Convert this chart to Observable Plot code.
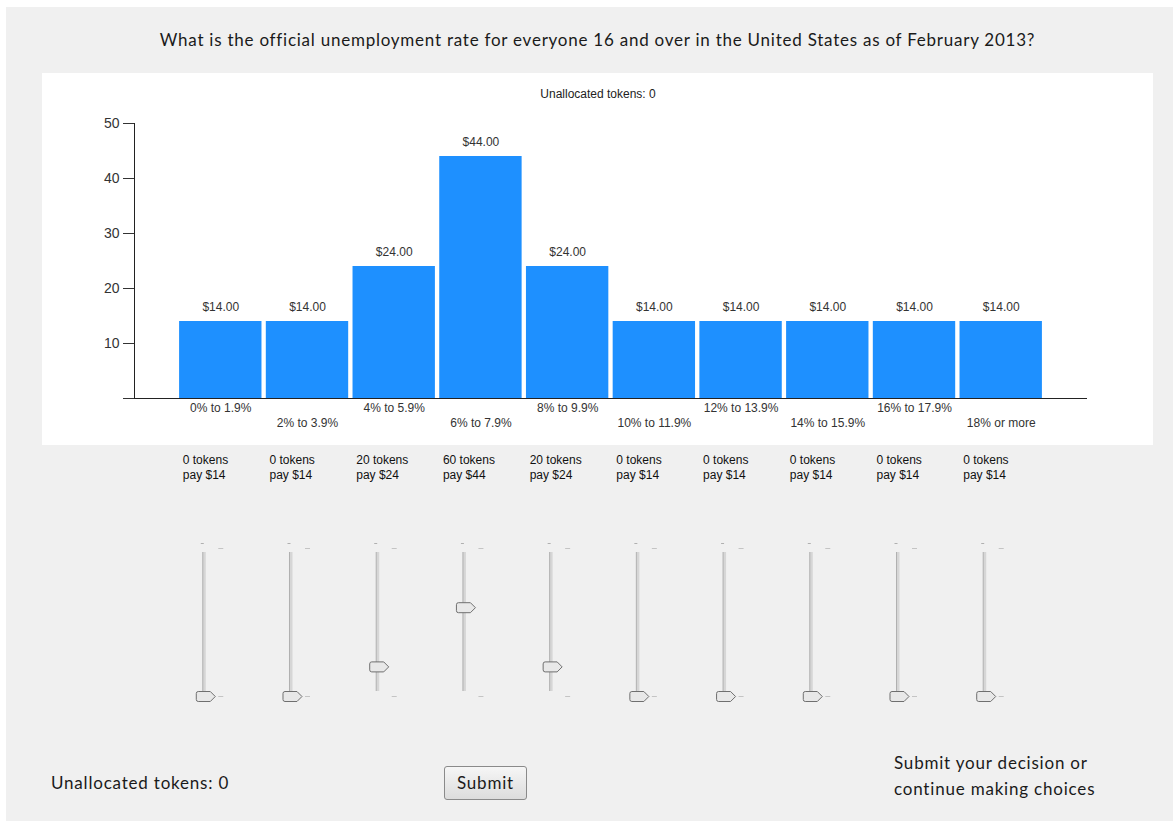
<!DOCTYPE html>
<html>
<head>
<meta charset="utf-8">
<script src="https://cdn.jsdelivr.net/npm/d3@7"></script>
<script src="https://cdn.jsdelivr.net/npm/@observablehq/plot@0.6"></script>
<style>
  html, body { margin: 0; padding: 0; background: #ffffff; }
  #page { position: absolute; left: 6px; top: 7px; width: 1167px; height: 814px; background: #f0f0f0; overflow: hidden; }
  .ui { position: absolute; font-family: Lato, "Open Sans", sans-serif; font-size: 17px; color: #1a1a1a; white-space: nowrap; letter-spacing: 0.8px; }
  #title { left: 0; width: 1183px; top: 22px; text-align: center; letter-spacing: 0.76px; }
  #chart { position: absolute; left: 36px; top: 66px; }
  #sliders { position: absolute; left: 36px; top: 438px; }
  #unalloc { left: 45px; top: 765px; }
  #submit { left: 438px; top: 759px; width: 81px; height: 32px; border: 1px solid #8a8a8a; border-radius: 3px;
            background: linear-gradient(#f6f6f6, #dcdcdc); text-align: center; line-height: 32px; }
  #hint { left: 888px; top: 743px; line-height: 26px; }
</style>
</head>
<body>
<div id="page">
  <div id="title" class="ui"></div>
  <div id="chart"></div>
  <div id="sliders"></div>
  <div id="unalloc" class="ui"></div>
  <div id="submit" class="ui"></div>
  <div id="hint" class="ui"></div>
</div>
<script>
// ---- data ----
const titleText = "What is the official unemployment rate for everyone 16 and over in the United States as of February 2013?";
const categories = ["0% to 1.9%", "2% to 3.9%", "4% to 5.9%", "6% to 7.9%", "8% to 9.9%",
                    "10% to 11.9%", "12% to 13.9%", "14% to 15.9%", "16% to 17.9%", "18% or more"];
const payouts = [14, 14, 24, 44, 24, 14, 14, 14, 14, 14];
const tokens = [0, 0, 20, 60, 20, 0, 0, 0, 0, 0];
const yTicks = [0, 10, 20, 30, 40, 50];
const tokenRange = [0, 100];
const unallocatedLabel = "Unallocated tokens: 0";
const submitLabel = "Submit";
const hintLines = ["Submit your decision or", "continue making choices"];

const data = categories.map((c, i) => ({cat: c, pay: payouts[i], tokens: tokens[i], i}));
const row1 = categories.filter((c, i) => i % 2 === 0);
const row2 = categories.filter((c, i) => i % 2 === 1);

document.getElementById("title").textContent = titleText;
document.getElementById("unalloc").textContent = unallocatedLabel;
document.getElementById("submit").textContent = submitLabel;
document.getElementById("hint").innerHTML = hintLines.join("<br>");

const xScale = {type: "band", domain: categories, paddingInner: 0.05, paddingOuter: 0.52, round: false};

// ---- bar chart ----
const chart = Plot.plot({
  width: 1111, height: 372,
  marginLeft: 92, marginRight: 66, marginTop: 50, marginBottom: 47,
  style: {background: "#ffffff", fontFamily: "Liberation Sans, Arial, sans-serif", color: "#333", overflow: "visible"},
  x: {...xScale, axis: null},
  y: {domain: [0, 50], axis: null},
  marks: [
    Plot.barY(data, {x: "cat", y: "pay", fill: "#1e90ff"}),
    Plot.text(data, {x: "cat", y: "pay", text: d => "$" + d.pay.toFixed(2), dy: -14, fontSize: 12, fill: "#333"}),
    Plot.ruleY([0], {stroke: "#222"}),
    Plot.frame({anchor: "left", stroke: "#222"}),
    Plot.axisY({ticks: yTicks, tickSize: 11, tickPadding: 4, tickFormat: d => d === 0 ? "" : d, fontSize: 14, stroke: "#333", fill: "#333", label: null}),
    Plot.axisX({ticks: row1, tickSize: 0, tickPadding: 5, fontSize: 12, fill: "#333", label: null}),
    Plot.axisX({ticks: row2, tickSize: 0, tickPadding: 20, fontSize: 12, fill: "#333", label: null}),
    Plot.text([unallocatedLabel], {frameAnchor: "top", dx: -13, dy: -34, fontSize: 12, fill: "#222"})
  ]
});
document.getElementById("chart").appendChild(chart);

// ---- sliders ----
const thumb = {draw(ctx) {
  ctx.moveTo(-8, -5); ctx.lineTo(4, -5); ctx.lineTo(9, 0); ctx.lineTo(4, 5); ctx.lineTo(-8, 5);
  ctx.quadraticCurveTo(-10, 5, -10, 3); ctx.lineTo(-10, -3); ctx.quadraticCurveTo(-10, -5, -8, -5); ctx.closePath();
}};
const dash = {draw(ctx) { ctx.moveTo(-2.5, 0); ctx.lineTo(2.5, 0); }};
const cap = {draw(ctx) { ctx.moveTo(-3, 0); ctx.lineTo(0, 0); }};
const tickData = data.flatMap(d => tokenRange.map(v => ({cat: d.cat, v})));

const sliders = Plot.plot({
  width: 1111, height: 280,
  marginLeft: 92, marginRight: 66, marginTop: 103, marginBottom: 29,
  style: {background: "transparent", fontFamily: "Liberation Sans, Arial, sans-serif", overflow: "visible"},
  x: {...xScale, axis: null},
  y: {domain: tokenRange, axis: null},
  marks: [
    Plot.ruleX(data, {x: "cat", y1: tokenRange[0], y2: tokenRange[1], insetTop: -5, insetBottom: -4, dx: -16.5, stroke: "#d6d6d6", strokeWidth: 3}),
    Plot.ruleX(data, {x: "cat", y1: tokenRange[0], y2: tokenRange[1], insetTop: -5, insetBottom: -4, dx: -18, stroke: "#b0b0b0", strokeWidth: 1}),
    Plot.dot(data, {x: "cat", y: tokenRange[1], dx: -17, dy: -5, symbol: cap, stroke: "#b0b0b0", strokeWidth: 1}),
    Plot.dot(tickData, {x: "cat", y: "v", symbol: dash, stroke: "#c4c4c4", strokeWidth: 1}),
    Plot.dot(data, {x: "cat", y: "tokens", dx: -14.5, symbol: thumb, fill: "#e8e8e8", stroke: "#6f6f6f", strokeWidth: 1}),
    Plot.text(data, {x: "cat", text: d => `${d.tokens} tokens\npay $${d.pay}`, frameAnchor: "top", lineAnchor: "top",
      textAnchor: "start", dx: -38, dy: -95, fontSize: 12, lineHeight: 1.25, fill: "#111", letterSpacing: "-0.4px"})
  ]
});
document.getElementById("sliders").appendChild(sliders);
</script>
</body>
</html>
